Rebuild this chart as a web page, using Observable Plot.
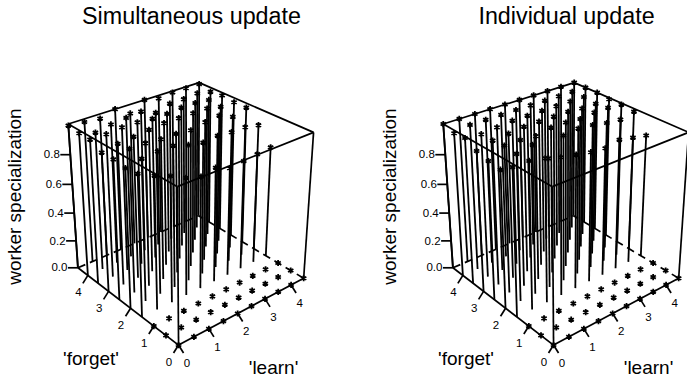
<!DOCTYPE html>
<html><head><meta charset="utf-8">
<script src="https://cdn.jsdelivr.net/npm/d3@7"></script>
<script src="https://cdn.jsdelivr.net/npm/@observablehq/plot@0.6"></script>
<style>html,body{margin:0;background:#fff}svg{display:block}</style></head>
<body><div id="chart"></div>
<script>
const learn = [0,0.5,1,1.5,2,2.5,3,3.5,4,4.5];
const forget = [4.5,4,3.5,3,2.5,2,1.5,1,0.5,0];
const zero = [0,0,0,0,0,0,0,0,0,0];
const simultaneous = [
  [0.99,0.98,0.97,1.00,0.94,1.00,0.98,0.99,0.99,0.99],
  [0.98,0.95,0.97,0.98,0.99,0.95,0.98,0.98,0.99,0.97],
  [0.98,0.98,0.99,0.99,0.98,0.98,0.99,0.99,0.98,0.98],
  [0.94,0.96,0.97,0.98,0.99,0.99,0.99,0.99,0.97,0.97],
  [0.94,0.97,0.97,0.96,0.96,0.95,0.97,0.98,0.94,0.97],
  [0.93,0.95,0.96,0.96,0.93,0.91,0.92,0.91,0.91,0.89],
  [0.94,0.89,0.85,0.80,0.77,0.79,0.75,0.76,0.77,0.78],
  zero, zero, zero
];
const individual = [
  [1.00,1.00,1.00,1.00,1.00,1.00,1.00,1.00,1.00,1.00],
  [0.98,1.00,1.00,1.00,1.00,1.00,1.00,1.00,1.00,1.00],
  [0.99,0.98,0.99,1.00,1.00,1.00,1.00,1.00,1.00,1.00],
  [0.95,0.98,0.99,1.00,1.00,1.00,1.00,0.99,0.99,0.99],
  [0.93,0.99,0.99,0.98,1.00,1.00,0.99,1.00,1.00,0.99],
  [0.92,0.98,1.00,0.88,0.99,1.00,0.99,0.97,0.96,0.98],
  [0.98,0.98,0.96,0.93,0.91,0.89,0.88,0.90,0.88,0.86],
  zero, zero, zero
];
const panels = ["Simultaneous update", "Individual update"];
const values = [simultaneous, individual];
const axisTicks = [0,1,2,3,4];
const zTicks = [0,0.2,0.4,0.6,0.8];
const zLabels = ["0.0","0.2","0.4","0.6","0.8"];
const domainMax = 4.5, zMax = 1;

// perspective camera: homogeneous projection of (learn, forget, z)
const camera = [
  [35.84752,-19.93971,-17.13612,178.05712],
  [-7.47995,-8.80600,-175.17910,344.55785],
  [0.0265416,0.0312933,-0.0901196,1]
];
const panelStep = 375;
function project(p,l,f,z){
  const h = camera.map(r => r[0]*l + r[1]*f + r[2]*z + r[3]);
  return {x: h[0]/h[2] + p*panelStep, y: h[1]/h[2]};
}
function seg(p,a,b,extra={}){
  const s = project(p,...a), e = project(p,...b);
  return {x1:s.x,y1:s.y,x2:e.x,y2:e.y,...extra};
}
const M = domainMax, Z = zMax;
const solid = [[[0,0,0],[M,0,0]],[[0,0,0],[0,M,0]],[[0,0,0],[0,0,Z]],[[M,0,0],[M,0,Z]],[[0,M,0],[0,M,Z]],
  [[0,0,Z],[M,0,Z]],[[0,0,Z],[0,M,Z]],[[M,0,Z],[M,M,Z]],[[0,M,Z],[M,M,Z]]];
const dashed = [[[0,M,0],[M,M,0]],[[M,0,0],[M,M,0]]];

const ids = [0,1];
const points = ids.flatMap(p => forget.flatMap((f,i) => learn.map((l,j) => {
  const z = values[p][i][j], top = project(p,l,f,z), base = project(p,l,f,0);
  return {x:top.x,y:top.y,bx:base.x,by:base.y,z};
})));
const stems = points.filter(d => d.z > 0);
const solidSegs = ids.flatMap(p => solid.map(([a,b]) => seg(p,a,b)));
const dashSegs = ids.flatMap(p => dashed.map(([a,b]) => seg(p,a,b)));

const forgetTicks = ids.flatMap(p => axisTicks.map(t => ({...project(p,0,t,0),t})));
const learnTicks = ids.flatMap(p => axisTicks.map(t => ({...project(p,t,0,0),t})));
const zt = ids.flatMap(p => zTicks.map((t,i) => ({...project(p,0,M,t),t:zLabels[i]})));

const titles = ids.map(p => ({x:191+p*panelStep,y:16,t:panels[p]}));
const yLabels = ids.map(p => ({x:14+p*panelStep,y:196,t:"worker specialization"}));
const fLabels = ids.map(p => ({x:90.5+p*panelStep,y:358,t:"'forget'"}));
const lLabels = ids.map(p => ({x:273+p*panelStep,y:367,t:"'learn'"}));

const lw = 1.7;
const plot = Plot.plot({
  width:687,height:382,margin:0,
  style:{fontFamily:"'Liberation Sans',Arial,sans-serif",background:"#fff",color:"#000"},
  x:{domain:[0,687],range:[0,687],axis:null},
  y:{domain:[0,382],range:[0,382],axis:null},
  marks:[
    Plot.link(dashSegs,{x1:"x1",y1:"y1",x2:"x2",y2:"y2",stroke:"#000",strokeWidth:lw,strokeDasharray:"8,5"}),
    Plot.link(stems,{x1:"bx",y1:"by",x2:"x",y2:"y",stroke:"#000",strokeWidth:1.8}),
    Plot.link(solidSegs,{x1:"x1",y1:"y1",x2:"x2",y2:"y2",stroke:"#000",strokeWidth:lw}),
    Plot.dot(points,{x:"x",y:"y",symbol:"asterisk",r:2.9,stroke:"#000",strokeWidth:1.8}),
    Plot.link(forgetTicks,{x1:"x",y1:"y",x2:d=>d.x-5,y2:d=>d.y+8,stroke:"#000",strokeWidth:lw}),
    Plot.link(learnTicks,{x1:"x",y1:"y",x2:d=>d.x+5,y2:d=>d.y+8,stroke:"#000",strokeWidth:lw}),
    Plot.link(zt,{x1:"x",y1:"y",x2:d=>d.x-10,y2:"y",stroke:"#000",strokeWidth:lw}),
    Plot.text(forgetTicks,{x:d=>d.x-9.5,y:d=>d.y+17,text:d=>String(d.t),fontSize:11.5,fill:"#000"}),
    Plot.text(learnTicks,{x:d=>d.x+8.5,y:d=>d.y+18,text:d=>String(d.t),fontSize:11.5,fill:"#000"}),
    Plot.text(zt,{x:d=>d.x-10.5,y:"y",text:"t",textAnchor:"end",fontSize:11.5,fill:"#000"}),
    Plot.text(titles,{x:"x",y:"y",text:"t",fontSize:23.3,fill:"#000"}),
    Plot.text(yLabels,{x:"x",y:"y",text:"t",rotate:-90,fontSize:19,fill:"#000"}),
    Plot.text(fLabels,{x:"x",y:"y",text:"t",fontSize:19,fill:"#000"}),
    Plot.text(lLabels,{x:"x",y:"y",text:"t",fontSize:19,fill:"#000"})
  ]
});
document.getElementById("chart").append(plot);
</script></body></html>
